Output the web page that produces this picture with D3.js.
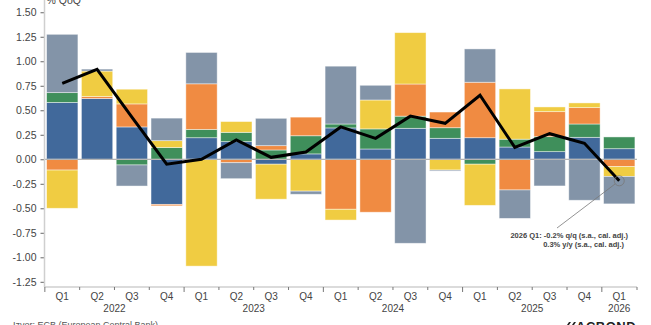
<!DOCTYPE html>
<html>
<head>
<meta charset="utf-8">
<style>
  body {
    background-color: white;
    margin: 0px;
    overflow: hidden;
  }
  text {
    font-family: "Liberation Sans", Arial, sans-serif;
    fill: #444;
  }
</style>
<script src="https://cdn.jsdelivr.net/npm/d3@7"></script>
</head>
<body>
  <svg></svg>
</body>
<script>
const quarters = ["Q1","Q2","Q3","Q4","Q1","Q2","Q3","Q4","Q1","Q2","Q3","Q4","Q1","Q2","Q3","Q4","Q1"];
const years = ["2022","2022","2022","2022","2023","2023","2023","2023","2024","2024","2024","2024","2025","2025","2025","2025","2026"];

// contributions, % points
const blue   = [0.58, 0.62, 0.33, -0.46, 0.22, 0.18, -0.05, 0.055, 0.32, 0.105, 0.316, 0.214, 0.22, 0.125, 0.078, 0.224, 0.108];
const green  = [0.10, 0, -0.058, 0.12, 0.085, 0.095, 0.095, 0.185, 0.04, 0.205, 0.124, 0.108, -0.05, 0.08, 0.153, 0.136, 0.12];
const orange = [-0.11, 0.02, 0.235, -0.015, 0.465, -0.035, 0.044, 0.19, -0.51, -0.54, 0.328, 0.16, 0.566, -0.313, 0.255, 0.167, -0.075];
const yellow = [-0.39, 0.26, 0.15, 0.07, -1.09, 0.11, -0.357, -0.325, -0.11, 0.295, 0.524, -0.11, -0.42, 0.513, 0.048, 0.048, -0.10];
const grey   = [0.595, 0.02, -0.215, 0.23, 0.32, -0.163, 0.279, -0.032, 0.59, 0.15, -0.857, -0.01, 0.34, -0.29, -0.272, -0.418, -0.28];

const gdp = [0.775, 0.918, 0.43, -0.05, 0.0, 0.197, 0.02, 0.074, 0.33, 0.214, 0.44, 0.367, 0.653, 0.122, 0.261, 0.163, -0.22];

const yTicks = [1.5, 1.25, 1, 0.75, 0.5, 0.25, 0, -0.25, -0.5, -0.75, -1, -1.25];

const keys = ["blue", "green", "orange", "yellow", "grey"];
const colors = {blue: "#41699b", green: "#3f8f5b", orange: "#f08b42", yellow: "#f0cc42", grey: "#8394a8"};

const width = 651, height = 325;
const plotLeft = 44.5, plotRight = 637, plotTop = 0, plotBottom = 287;

const svg = d3.select("svg")
    .attr("width", width)
    .attr("height", height);

const ids = quarters.map(function(d, i) {return years[i] + " " + d});
const rows = ids.map(function(id, i) {
  return {id: id, blue: blue[i], green: green[i], orange: orange[i], yellow: yellow[i], grey: grey[i]};
});

const x = d3.scaleBand().domain(ids).range([plotLeft, plotRight]).paddingInner(0.1).paddingOuter(0.06);
const y = d3.scaleLinear().domain([-1.303, 1.625]).range([plotBottom, plotTop]);

const series = d3.stack().keys(keys).offset(d3.stackOffsetDiverging)(rows);

svg.append("g").selectAll("g")
    .data(series)
  .enter().append("g")
    .attr("fill", function(d) {return colors[d.key]})
  .selectAll("rect")
    .data(function(d) {return d})
  .enter().append("rect")
    .attr("x", function(d) {return x(d.data.id)})
    .attr("width", x.bandwidth())
    .attr("y", function(d) {return y(Math.max(d[0], d[1]))})
    .attr("height", function(d) {return Math.abs(y(d[0]) - y(d[1]))})
    .style("stroke", "white")
    .style("stroke-opacity", 0.55)
    .style("stroke-width", 0.8);

// zero line
svg.append("line")
    .attr("x1", plotLeft).attr("x2", plotRight)
    .attr("y1", y(0)).attr("y2", y(0))
    .style("stroke", "#b5b5b5")
    .style("stroke-width", 1.2);

// y axis
const yAxis = svg.append("g")
    .attr("transform", "translate(" + plotLeft + ",0)")
    .call(d3.axisLeft(y).tickValues(yTicks).tickSize(4).tickPadding(4)
      .tickFormat(function(d) {return d3.format(".2f")(d).replace("\u2212", "-")}));
yAxis.select(".domain").remove();
yAxis.selectAll("line").style("stroke", "#666");
yAxis.selectAll("text").style("font-size", "10.5px").style("fill", "#444");

svg.append("line")
    .attr("x1", plotLeft).attr("x2", plotLeft)
    .attr("y1", 0).attr("y2", plotBottom)
    .style("stroke", "#cfcfcf")
    .style("stroke-width", 1.5);

svg.append("text")
    .attr("x", plotLeft + 2)
    .attr("y", 3.5)
    .style("font-size", "10.5px")
    .text("% QoQ");

// x axis
svg.append("line")
    .attr("x1", plotLeft).attr("x2", plotRight)
    .attr("y1", plotBottom).attr("y2", plotBottom)
    .style("stroke", "#cfcfcf")
    .style("stroke-width", 1.5);

const step = x.step();
const bounds = d3.range(ids.length + 1);
svg.append("g").selectAll("line")
    .data(bounds)
  .enter().append("line")
    .attr("x1", function(i) {return i == ids.length ? plotRight : x(ids[i]) - step * x.paddingInner() / 2})
    .attr("x2", function(i) {return i == ids.length ? plotRight : x(ids[i]) - step * x.paddingInner() / 2})
    .attr("y1", plotBottom)
    .attr("y2", function(i) {return (i < ids.length && quarters[i] == "Q1") ? plotBottom + 5 : plotBottom + 3})
    .style("stroke", "#777")
    .style("stroke-width", 1);

svg.append("g").selectAll("text")
    .data(ids)
  .enter().append("text")
    .attr("x", function(d) {return x(d) + x.bandwidth() / 2})
    .attr("y", 300)
    .attr("text-anchor", "middle")
    .style("font-size", "10px")
    .text(function(d, i) {return quarters[i]});

const yearGroups = d3.groups(ids, function(d) {return d.slice(0, 4)});
svg.append("g").selectAll("text")
    .data(yearGroups)
  .enter().append("text")
    .attr("x", function(d) {
      const first = d[1][0], last = d[1][d[1].length - 1];
      return (x(first) + x(last) + x.bandwidth()) / 2;
    })
    .attr("y", 312)
    .attr("text-anchor", "middle")
    .style("font-size", "10px")
    .text(function(d) {return d[0]});

// GDP line
const line = d3.line()
    .x(function(d, i) {return x(ids[i]) + x.bandwidth() / 2})
    .y(function(d) {return y(d)});

svg.append("path")
    .datum(gdp)
    .attr("d", line)
    .style("fill", "none")
    .style("stroke", "black")
    .style("stroke-width", 3)
    .style("stroke-linejoin", "miter");

// annotation
const lastX = x(ids[ids.length - 1]) + x.bandwidth() / 2;
const lastY = y(gdp[gdp.length - 1]);
svg.append("circle")
    .attr("cx", lastX).attr("cy", lastY).attr("r", 5)
    .style("fill", "none")
    .style("stroke", "#777")
    .style("stroke-width", 0.8);
svg.append("line")
    .attr("x1", lastX - 4).attr("y1", lastY + 3)
    .attr("x2", 557).attr("y2", 228)
    .style("stroke", "#777")
    .style("stroke-width", 0.8);
svg.append("text")
    .attr("x", 628).attr("y", 238)
    .attr("text-anchor", "end")
    .style("font-size", "7.5px")
    .style("font-weight", "bold")
    .style("fill", "#444")
    .text("2026 Q1: -0.2% q/q (s.a., cal. adj.)");
svg.append("text")
    .attr("x", 624).attr("y", 247)
    .attr("text-anchor", "end")
    .style("font-size", "7.5px")
    .style("font-weight", "bold")
    .style("fill", "#444")
    .text("0.3% y/y (s.a., cal. adj.)");

// source and logo
svg.append("text")
    .attr("x", 13).attr("y", 328)
    .style("font-size", "9px")
    .style("fill", "#555")
    .text("Izvor: ECB (European Central Bank)");

svg.append("path")
    .attr("d", "M563,331 L569,322 L571,322 L565,331 Z M568,331 L574,322 L576,322 L570,331 Z")
    .style("fill", "#222");
svg.append("text")
    .attr("x", 576).attr("y", 331)
    .style("font-size", "13px")
    .style("font-weight", "bold")
    .style("letter-spacing", "0.5px")
    .style("fill", "#222")
    .text("ACBOND");
</script>
</html>
